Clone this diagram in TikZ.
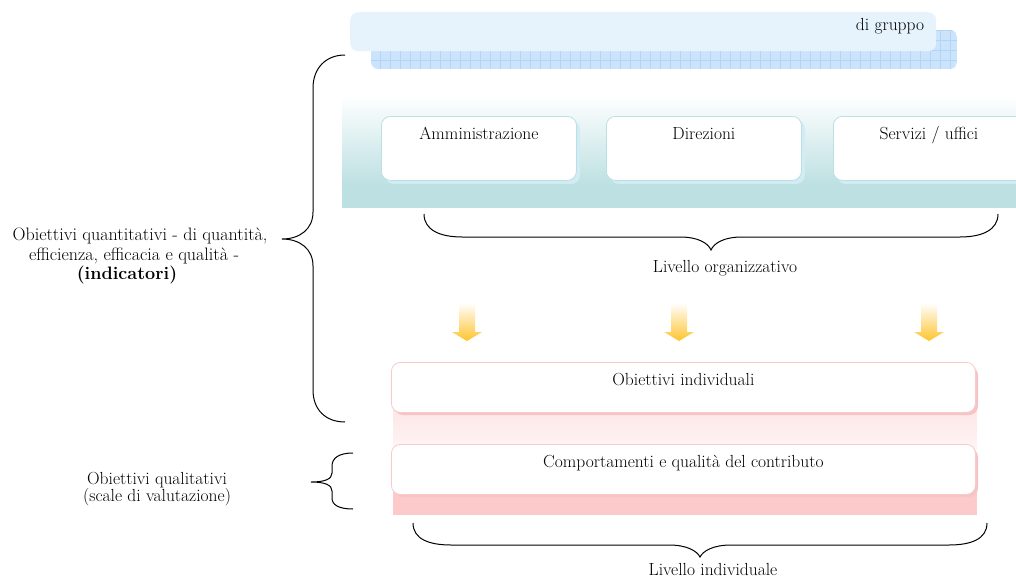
\documentclass[tikz,border=0pt]{standalone}
\usetikzlibrary{calc}
\definecolor{txt}{HTML}{000000}
\definecolor{topbox}{HTML}{E6F3FC}
\definecolor{gridfill}{HTML}{CCE4FB}
\definecolor{gridline}{HTML}{B0D5F7}
\definecolor{bandteal}{HTML}{BDE0E2}
\definecolor{boxline}{HTML}{B9E0E4}
\definecolor{boxshadow}{HTML}{D3EBF2}
\definecolor{pinkline}{HTML}{F8CACA}
\definecolor{pinkband}{HTML}{FCCACA}
\definecolor{pinkshadow}{HTML}{F6C4C4}
\definecolor{pinktop}{HTML}{FDE2E2}
\definecolor{pinkbot}{HTML}{FFF5F5}
\definecolor{arrowgold}{HTML}{FFC42E}
\tikzset{
  lbl/.style={text=txt, inner sep=0pt},
  orgbox/.style={draw=boxline, line width=0.8pt, fill=white, rounded corners=9pt,
    minimum width=195pt, minimum height=64pt, anchor=north west, inner sep=0pt},
  orgshadow/.style={fill=boxshadow, rounded corners=9pt},
  indbox/.style={draw=pinkline, line width=0.8pt, fill=white, rounded corners=9pt,
    minimum width=584pt, minimum height=50pt, anchor=north west, inner sep=0pt},
  indshadow/.style={fill=pinkshadow, rounded corners=9pt},
  bracepath/.style={draw=black, line width=1pt},
  goldarrow/.style={top color=white, bottom color=arrowgold, draw=none}
}
\begin{document}
\begin{tikzpicture}[x=1pt,y=-1pt,font=\fontsize{17.5}{19.5}\selectfont]
\useasboundingbox (0,0) rectangle (1016,578);

% ---- top "di gruppo" group ----
\begin{scope}
  \clip[rounded corners=7pt] (371,30) rectangle (957,69);
  \fill[gridfill] (371,30) rectangle (957,69);
  \draw[gridline, line width=0.5pt] (371,30) grid[step=10pt] (957,69);
\end{scope}
\node[fill=topbox, rounded corners=8pt, minimum width=586pt, minimum height=39pt,
      anchor=north west, inner sep=0pt] (grp) at (350,12) {};
\node[lbl, anchor=base] (grptext) at (890,31) {di gruppo};

% ---- teal organisational band ----
\shade[top color=white, bottom color=bandteal] (342,95) rectangle (1016,185);
\fill[bandteal] (342,184.5) rectangle (1016,208);

\foreach \x/\nm in {381/a1,606/a2,833/a3}{
  \fill[orgshadow] (\x+4,120) rectangle (\x+199,184);
  \node[orgbox] (\nm) at (\x,116) {};
}
\node[lbl, anchor=base] (t1) at ($(a1.north)+(0,23)$) {Amministrazione};
\node[lbl, anchor=base] (t2) at ($(a2.north)+(0,23)$) {Direzioni};
\node[lbl, anchor=base] (t3) at (929,139) {Servizi / uffici};

% ---- brace: livello organizzativo ----
\coordinate (o1) at (424,214);
\coordinate (o2) at (998,214);
\coordinate (otip) at (711,250);
\draw[bracepath] (o1) .. controls (424,230) and (440,237) .. (462,237) -- (680,237)
  .. controls (698,237) and (708,243) .. (otip)
  .. controls (714,243) and (724,237) .. (742,237) -- (960,237)
  .. controls (982,237) and (998,230) .. (o2);
\node[lbl] (orglbl) at (725,268) {Livello organizzativo};

% ---- gold arrows ----
\foreach \cx in {467,679,929}{
  \shade[goldarrow] (\cx-8,303) -- (\cx+8,303) -- (\cx+8,332) -- (\cx+15,332)
    -- (\cx,341) -- (\cx-15,332) -- (\cx-8,332) -- cycle;
}

% ---- pink individual block ----
\shade[top color=pinktop, bottom color=pinkbot] (393,400) rectangle (977,450);
\fill[pinkband] (393,480) rectangle (977,515);
\fill[indshadow] (394,366) rectangle (978,415);
\fill[indshadow] (394,448) rectangle (978,497);
\node[indbox] (ind1) at (391,362) {};
\node[indbox] (ind2) at (391,444) {};
\node[lbl, anchor=base] (ind1t) at ($(ind1.north)+(0,23)$) {Obiettivi individuali};
\node[lbl, anchor=base] (ind2t) at ($(ind2.north)+(0,23)$) {Comportamenti e qualità del contributo};

% ---- brace: livello individuale ----
\coordinate (i1) at (413,523);
\coordinate (i2) at (987,523);
\coordinate (itip) at (700,557);
\draw[bracepath] (i1) .. controls (413,539) and (429,545) .. (451,545) -- (669,545)
  .. controls (687,545) and (697,551) .. (itip)
  .. controls (703,551) and (713,545) .. (731,545) -- (949,545)
  .. controls (971,545) and (987,539) .. (i2);
\node[lbl, anchor=base] (indlbl) at (713,575.5) {Livello individuale};

% ---- big left brace ----
\coordinate (b1) at (345,55);
\coordinate (b2) at (345,422);
\coordinate (btip) at (282,239);
\draw[bracepath] (b1) .. controls (326,55) and (313,68) .. (313,88) -- (313,212)
  .. controls (313,229) and (300,239) .. (btip)
  .. controls (300,239) and (313,249) .. (313,266) -- (313,390)
  .. controls (313,410) and (326,422) .. (b2);
\begin{scope}[every node/.style={lbl, anchor=base, font=\fontsize{18}{19.5}\selectfont}]
  \node (quant1) at (140,240) {Obiettivi quantitativi - di quantità,};
  \node (quant2) at (134,260) {efficienza, efficacia e qualità -};
  \node (quant3) at (127,279) {\textbf{(indicatori)}};
\end{scope}

% ---- small left brace ----
\coordinate (s1) at (353,453);
\coordinate (s2) at (353,509);
\coordinate (stip) at (311,482);
\draw[bracepath] (s1) .. controls (339,453) and (332,458) .. (332,466) -- (332,473)
  .. controls (332,479) and (325,482) .. (stip)
  .. controls (325,482) and (332,485) .. (332,491) -- (332,498)
  .. controls (332,505) and (339,509) .. (s2);
\node[lbl, align=center, font=\fontsize{17.5}{17.5}\selectfont] (qual) at (157,489)
  {Obiettivi qualitativi\\ (scale di valutazione)};
\end{tikzpicture}
\end{document}
